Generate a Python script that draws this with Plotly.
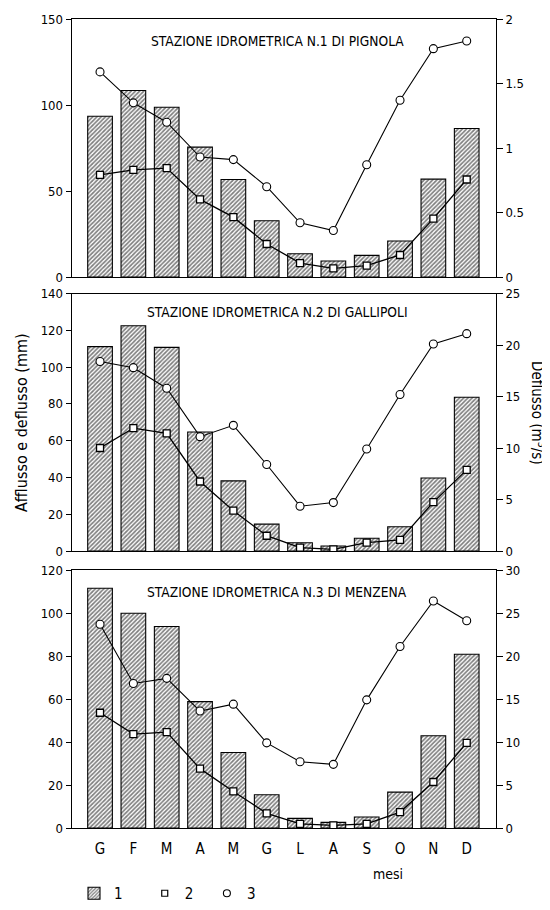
import plotly.graph_objects as go

months = ["G", "F", "M", "A", "M", "G", "L", "A", "S", "O", "N", "D"]
xpos = list(range(12))

titles = ["STAZIONE IDROMETRICA N.1 DI PIGNOLA",
          "STAZIONE IDROMETRICA N.2 DI GALLIPOLI",
          "STAZIONE IDROMETRICA N.3 DI MENZENA"]

# 1: afflusso (mm) - bars
afflusso_1 = [93.5, 108.4, 98.7, 75.5, 56.7, 32.7, 13.5, 9.3, 12.6, 20.9, 56.9, 86.3]
afflusso_2 = [111.1, 122.5, 110.7, 64.7, 38.1, 14.6, 4.5, 2.7, 6.9, 13.2, 39.7, 83.6]
afflusso_3 = [111.5, 99.9, 93.7, 58.8, 35.1, 15.5, 4.5, 2.6, 5.1, 16.7, 42.9, 80.8]

# 2: deflusso (mm) - squares
deflusso_mm_1 = [59.4, 62.3, 63.3, 45.1, 34.8, 19.2, 8.1, 5.0, 6.6, 12.8, 33.9, 56.7]
deflusso_mm_2 = [56.0, 66.8, 63.9, 37.8, 21.9, 8.3, 1.8, 0.9, 4.5, 6.0, 26.6, 44.1]
deflusso_mm_3 = [53.6, 43.7, 44.6, 27.6, 17.0, 6.8, 1.9, 1.2, 1.9, 7.4, 21.4, 39.6]

# 3: deflusso (m3/s) - circles
deflusso_q_1 = [1.59, 1.35, 1.20, 0.93, 0.91, 0.70, 0.42, 0.36, 0.87, 1.37, 1.77, 1.83]
deflusso_q_2 = [18.4, 17.8, 15.8, 11.1, 12.2, 8.4, 4.35, 4.7, 9.9, 15.2, 20.1, 21.1]
deflusso_q_3 = [23.7, 16.8, 17.4, 13.6, 14.4, 9.9, 7.7, 7.4, 14.9, 21.1, 26.4, 24.1]

left_ranges = [[0, 150], [0, 140], [0, 120]]
left_dticks = [50, 20, 20]
right_ranges = [[0, 2], [0, 25], [0, 30]]
right_dticks = [0.5, 5, 5]

bars = [afflusso_1, afflusso_2, afflusso_3]
squares = [deflusso_mm_1, deflusso_mm_2, deflusso_mm_3]
circles = [deflusso_q_1, deflusso_q_2, deflusso_q_3]

FONT = "DejaVu Sans Condensed, DejaVu Sans, sans-serif"
OFF = 8  # default page body margin
W, H = 550 - OFF, 910 - OFF

def fx(px):
    return (px - OFF) / W

def fy(px):
    return (H - (px - OFF)) / H

x_domain = [fx(71.7), fx(495.7)]
domains = [[fy(277), fy(19)], [fy(551), fy(293.5)], [fy(828), fy(570)]]

fig = go.Figure()
layout = dict(
    width=W, height=H,
    margin=dict(l=0, r=0, t=0, b=0, autoexpand=False),
    paper_bgcolor="white", plot_bgcolor="white",
    font=dict(family=FONT, size=12, color="black"),
    showlegend=True,
)

annotations = []
for i in range(3):
    xa = "x" if i == 0 else f"x{i+1}"
    yl = f"y{2*i+1}" if i > 0 else "y"
    yr = f"y{2*i+2}"
    fig.add_trace(go.Bar(
        x=xpos, y=bars[i], xaxis=xa, yaxis=yl, width=0.74,
        marker=dict(color="white", line=dict(color="black", width=1.1),
                    pattern=dict(shape="/", fgcolor="black", bgcolor="white",
                                 size=3, solidity=0.55)),
        name="1" + "\u00a0" * 4, showlegend=(i == 0), legendrank=1,
    ))
    fig.add_trace(go.Scatter(
        x=xpos, y=squares[i], xaxis=xa, yaxis=yl, mode="lines+markers",
        line=dict(color="black", width=1.3),
        marker=dict(symbol="square", size=7, color="white",
                    line=dict(color="black", width=1.3)),
        name="2", showlegend=False,
    ))
    fig.add_trace(go.Scatter(
        x=xpos, y=circles[i], xaxis=xa, yaxis=yr, mode="lines+markers",
        line=dict(color="black", width=1.1),
        marker=dict(symbol="circle", size=8, color="white",
                    line=dict(color="black", width=1.1)),
        name="3", showlegend=False,
    ))

    xkey = "xaxis" if i == 0 else f"xaxis{i+1}"
    ylkey = "yaxis" if i == 0 else f"yaxis{2*i+1}"
    yrkey = f"yaxis{2*i+2}"
    layout[xkey] = dict(
        domain=x_domain, anchor=yl, range=[-0.85, 11.87],
        tickmode="array", tickvals=xpos, ticktext=months,
        showticklabels=(i == 2), ticks="", showgrid=False, zeroline=False,
        showline=True, linecolor="black", linewidth=1.2, mirror=True,
        tickfont=dict(size=15), ticklabelstandoff=7, automargin=False,
    )
    layout[ylkey] = dict(
        domain=domains[i], anchor=xa, range=left_ranges[i], dtick=left_dticks[i],
        ticks="outside", ticklen=5, tickwidth=1, tickcolor="black",
        showgrid=False, zeroline=False, showline=True, linecolor="black",
        linewidth=1.2, tickfont=dict(size=13), automargin=False,
    )
    layout[yrkey] = dict(
        overlaying=yl, side="right", anchor=xa, range=right_ranges[i],
        dtick=right_dticks[i],
        ticks="outside", ticklen=6, tickwidth=1, tickcolor="black",
        showgrid=False, zeroline=False, showline=True, linecolor="black",
        linewidth=1.2, tickfont=dict(size=13), automargin=False,
    )
    annotations.append(dict(
        text=titles[i], xref="paper", yref="paper",
        x=fx(277), y=fy([41, 312, 592][i]),
        showarrow=False, font=dict(size=13.7), xanchor="center", yanchor="middle",
    ))

# legend-only markers
fig.add_trace(go.Scatter(x=[None], y=[None], mode="markers", name="2" + "\u00a0" * 2,
                         marker=dict(symbol="square", size=6, color="white",
                                     line=dict(color="black", width=1.2)),
                         legendrank=2))
fig.add_trace(go.Scatter(x=[None], y=[None], mode="markers", name="3",
                         marker=dict(symbol="circle", size=7, color="white",
                                     line=dict(color="black", width=1.1)),
                         legendrank=3))

annotations.append(dict(text="Afflusso e deflusso (mm)", xref="paper", yref="paper",
                        x=fx(21), y=fy(423), textangle=-90, showarrow=False,
                        font=dict(size=16), xanchor="center", yanchor="middle"))
annotations.append(dict(text="Deflusso (m<sup>3</sup>/s)", xref="paper", yref="paper",
                        x=fx(538), y=fy(413), textangle=90, showarrow=False,
                        font=dict(size=15), xanchor="center", yanchor="middle"))
annotations.append(dict(text="mesi", xref="paper", yref="paper",
                        x=fx(388), y=fy(874), showarrow=False,
                        font=dict(size=14), xanchor="center", yanchor="middle"))

layout["annotations"] = annotations
layout["legend"] = dict(orientation="h", x=fx(74), y=0, xanchor="left",
                        yanchor="bottom", font=dict(size=15), bgcolor="rgba(0,0,0,0)",
                        itemwidth=30, tracegroupgap=0)
fig.update_layout(**layout)
fig.write_html("out.html")
